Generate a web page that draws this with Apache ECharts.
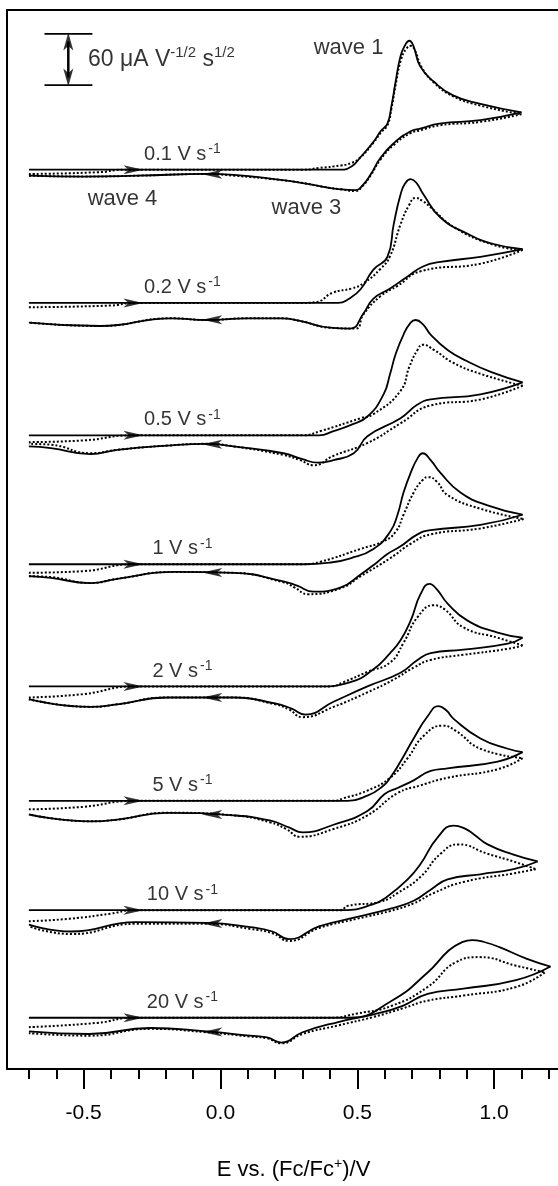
<!DOCTYPE html>
<html>
<head>
<meta charset="utf-8">
<script src="https://cdn.jsdelivr.net/npm/echarts@6/dist/echarts.min.js"></script>
<style>
html, body { margin: 0; padding: 0; background: #fff; }
#main { width: 558px; height: 1186px; }
</style>
</head>
<body>
<div id="main"></div>
<script>
// scan rates, top to bottom
const rates = ['0.1', '0.2', '0.5', '1', '2', '5', '10', '20'];
// vertical offset of each CV, in current units
const offsets = [1053, 897, 742, 591, 448, 314, 186, 60];
const majorTicks = [-0.5, 0.0, 0.5, 1.0];
const minorTicks = [-0.7, -0.6, -0.4, -0.3, -0.2, -0.1, 0.1, 0.2, 0.3, 0.4, 0.6, 0.7, 0.8, 0.9, 1.1, 1.2];

// [E / V, i / (uA V^-1/2 s^1/2)] ; exp = solid, sim = dotted ; F = forward, R = reverse
const exp01F = [[-0.70,0],[0.20,0],[0.44,0],[0.48,4],[0.51,14],[0.56,33],[0.585,45],[0.61,54],[0.625,75],[0.64,103],[0.658,133],[0.675,146],[0.69,151],[0.705,145],[0.73,121],[0.78,103],[0.85,87],[0.95,77],[1.10,67]];
const exp01R = [[1.10,67],[0.95,58],[0.80,54],[0.73,48],[0.695,45],[0.633,31],[0.585,14],[0.548,-6],[0.52,-18],[0.494,-24],[0.44,-23],[0.375,-20],[0.29,-15],[0.22,-12],[0.05,-6],[-0.05,-5],[-0.30,-7],[-0.50,-8],[-0.70,-7]];
const sim01F = [[-0.70,-5],[-0.45,-3],[-0.35,0],[0.30,0],[0.36,2],[0.44,5],[0.48,8],[0.51,14],[0.56,32],[0.585,43],[0.61,52],[0.625,72],[0.64,99],[0.66,129],[0.68,142],[0.695,145],[0.71,140],[0.735,120],[0.78,102],[0.85,86],[0.95,75],[1.10,65]];
const sim01R = [[1.10,65],[0.95,56],[0.80,52],[0.73,46],[0.695,43],[0.633,29],[0.585,12],[0.548,-7],[0.52,-19],[0.494,-25],[0.44,-23],[0.375,-20],[0.29,-15],[0.22,-12],[0.05,-7],[-0.05,-5],[-0.30,-7],[-0.50,-8],[-0.70,-7]];

const exp02F = [[-0.70,0],[0.20,0],[0.43,0],[0.47,5],[0.512,16],[0.559,39],[0.61,54],[0.633,92],[0.658,127],[0.675,140],[0.695,145],[0.715,141],[0.742,127],[0.804,100],[0.903,81],[0.998,69],[1.104,63]];
const exp02R = [[1.104,63],[0.95,54],[0.804,48],[0.742,43],[0.684,31],[0.62,17],[0.559,5],[0.523,-12],[0.475,-30],[0.40,-29],[0.29,-21],[0.22,-18],[0.10,-18],[-0.05,-20],[-0.18,-18],[-0.44,-27],[-0.70,-23]];
const sim02F = [[-0.70,-5],[-0.40,-3],[-0.32,0],[0.30,0],[0.35,1],[0.41,12],[0.48,17],[0.523,23],[0.585,40],[0.62,55],[0.658,92],[0.69,115],[0.713,123],[0.74,119],[0.768,112],[0.852,89],[0.998,68],[1.104,62]];
const sim02R = [[1.104,62],[0.95,46],[0.731,37],[0.647,20],[0.585,8],[0.523,-13],[0.494,-30],[0.40,-29],[0.29,-21],[0.22,-18],[0.10,-18],[-0.05,-20],[-0.18,-18],[-0.44,-27],[-0.70,-23]];

const exp05F = [[-0.70,0],[0.36,0],[0.413,5],[0.475,12],[0.537,22],[0.596,48],[0.62,72],[0.64,95],[0.669,118],[0.695,132],[0.713,135],[0.74,130],[0.768,118],[0.83,100],[0.90,87],[0.99,74],[1.104,62]];
const exp05R = [[1.104,62],[0.95,48],[0.768,42],[0.72,36],[0.658,20],[0.537,-1],[0.487,-21],[0.413,-29],[0.355,-32],[0.30,-28],[0.23,-21],[0.048,-13],[-0.048,-10],[-0.194,-12],[-0.377,-17],[-0.475,-22],[-0.62,-15],[-0.70,-13]];
const sim05F = [[-0.70,-8],[-0.50,-6],[-0.32,0],[0.30,0],[0.366,5],[0.512,20],[0.56,25],[0.658,52],[0.69,80],[0.72,100],[0.739,106],[0.78,100],[0.85,85],[0.95,72],[1.104,58]];
const sim05R = [[1.104,58],[0.95,42],[0.768,35],[0.658,14],[0.537,-9],[0.413,-24],[0.34,-35],[0.29,-29],[0.23,-23],[0.048,-13],[-0.048,-10],[-0.194,-12],[-0.377,-17],[-0.475,-21],[-0.62,-11],[-0.70,-10]];

const exp1F = [[-0.70,0],[0.30,0],[0.40,2],[0.475,7],[0.559,18],[0.62,38],[0.647,58],[0.669,84],[0.695,107],[0.72,124],[0.739,130],[0.768,122],[0.804,107],[0.877,84],[0.976,69],[1.104,58]];
const exp1R = [[1.104,58],[0.95,46],[0.768,40],[0.72,35],[0.658,21],[0.61,12],[0.575,3],[0.512,-12],[0.44,-27],[0.34,-32],[0.28,-25],[0.23,-20],[0.048,-10],[-0.17,-9],[-0.377,-17],[-0.475,-22],[-0.62,-16],[-0.70,-14]];
const sim1F = [[-0.70,-10],[-0.50,-8],[-0.32,0],[0.30,0],[0.366,3],[0.512,18],[0.596,27],[0.64,38],[0.669,58],[0.706,84],[0.74,99],[0.76,102],[0.79,97],[0.83,81],[0.95,65],[1.108,53]];
const sim1R = [[1.108,53],[0.95,42],[0.768,35],[0.695,24],[0.62,7],[0.512,-14],[0.44,-28],[0.32,-35],[0.27,-27],[0.23,-21],[0.048,-10],[-0.17,-9],[-0.377,-17],[-0.475,-22],[-0.62,-15],[-0.70,-14]];

const exp2F = [[-0.70,0],[0.36,0],[0.475,5],[0.559,20],[0.62,39],[0.658,54],[0.695,77],[0.731,108],[0.764,120],[0.79,114],[0.83,97],[0.903,77],[1.013,63],[1.104,57]];
const exp2R = [[1.104,57],[1.05,50],[0.888,43],[0.768,39],[0.72,31],[0.658,16],[0.537,0],[0.413,-18],[0.31,-33],[0.26,-26],[0.20,-20],[0.048,-13],[-0.194,-13],[-0.377,-21],[-0.475,-24],[-0.70,-15]];
const sim2F = [[-0.70,-13],[-0.50,-9],[-0.32,0],[0.40,0],[0.45,5],[0.537,17],[0.62,28],[0.669,51],[0.72,81],[0.779,95],[0.82,90],[0.888,69],[1.013,57],[1.104,48]];
const sim2R = [[1.104,48],[1.05,44],[0.888,37],[0.768,31],[0.706,22],[0.633,8],[0.537,-7],[0.413,-24],[0.30,-36],[0.25,-27],[0.20,-21],[0.048,-13],[-0.194,-13],[-0.377,-21],[-0.475,-24],[-0.70,-15]];

const exp5F = [[-0.70,0],[0.45,0],[0.537,6],[0.596,18],[0.62,27],[0.658,46],[0.706,73],[0.757,99],[0.797,111],[0.825,106],[0.852,96],[0.95,73],[1.05,61],[1.104,57]];
const exp5R = [[1.104,57],[1.013,46],[0.83,38],[0.768,35],[0.706,24],[0.647,15],[0.60,8],[0.537,-12],[0.413,-28],[0.30,-37],[0.25,-31],[0.18,-23],[0.048,-17],[-0.194,-14],[-0.377,-22],[-0.475,-24],[-0.70,-16]];
const sim5F = [[-0.70,-10],[-0.50,-7],[-0.32,0],[0.413,0],[0.45,3],[0.537,12],[0.62,27],[0.684,50],[0.742,76],[0.812,88],[0.86,82],[0.95,61],[1.104,50]];
const sim5R = [[1.104,50],[1.013,37],[0.83,27],[0.73,18],[0.647,9],[0.537,-17],[0.413,-33],[0.29,-42],[0.24,-33],[0.18,-25],[0.048,-17],[-0.194,-14],[-0.377,-22],[-0.475,-24],[-0.70,-16]];

const exp10F = [[-0.70,0],[0.45,0],[0.559,7],[0.61,16],[0.684,36],[0.731,54],[0.793,85],[0.852,99],[0.89,96],[0.925,89],[0.976,77],[1.071,65],[1.159,57]];
const exp10R = [[1.159,57],[1.071,48],[0.95,42],[0.83,36],[0.768,24],[0.706,11],[0.625,2],[0.50,-8],[0.36,-19],[0.25,-34],[0.19,-25],[0.11,-20],[-0.048,-15],[-0.31,-14],[-0.545,-25],[-0.70,-17]];
const sim10F = [[-0.70,-13],[-0.55,-10],[-0.40,-4],[-0.32,0],[0.44,0],[0.464,5],[0.585,10],[0.647,20],[0.731,39],[0.804,66],[0.87,77],[0.976,66],[1.071,57],[1.152,48]];
const sim10R = [[1.152,48],[1.071,43],[0.888,33],[0.779,20],[0.706,8],[0.62,-1],[0.50,-10],[0.36,-21],[0.25,-36],[0.19,-27],[0.11,-22],[-0.048,-16],[-0.31,-16],[-0.545,-28],[-0.70,-19]];

const exp20F = [[-0.70,0],[0.47,0],[0.626,20],[0.757,53],[0.835,79],[0.88,88],[0.92,91],[0.96,89],[1.017,83],[1.12,69],[1.206,60]];
const exp20R = [[1.206,60],[1.08,44],[0.888,34],[0.757,28],[0.666,14],[0.56,4],[0.43,-5],[0.30,-17],[0.223,-29],[0.17,-23],[0.107,-21],[-0.05,-16],[-0.256,-12],[-0.48,-19],[-0.70,-16]];
const sim20F = [[-0.70,-11],[-0.45,-6],[-0.32,0],[0.40,0],[0.50,5],[0.626,14],[0.757,36],[0.86,65],[0.946,71],[1.08,61],[1.185,53]];
const sim20R = [[1.185,53],[1.08,36],[0.888,26],[0.757,20],[0.666,11],[0.56,1],[0.43,-9],[0.30,-19],[0.223,-30],[0.17,-24],[0.107,-22],[-0.05,-17],[-0.256,-13],[-0.48,-21],[-0.70,-18]];

const expF = [exp01F, exp02F, exp05F, exp1F, exp2F, exp5F, exp10F, exp20F];
const expR = [exp01R, exp02R, exp05R, exp1R, exp2R, exp5R, exp10R, exp20R];
const simF = [sim01F, sim02F, sim05F, sim1F, sim2F, sim5F, sim10F, sim20F];
const simR = [sim01R, sim02R, sim05R, sim1R, sim2R, sim5R, sim10R, sim20R];

// scale bar: 60 uA V^-1/2 s^1/2
const barE = [-0.643, -0.468];
const barBottom = 1152;
const barSize = 60;

const font = 'Liberation Sans, Arial, sans-serif';
const arrowPath = 'path://M0,0 L20,4.5 L0,9 L5,4.5 Z';

function interp(d, e) {
  for (let j = 0; j < d.length - 1; j++) {
    const a = d[j], b = d[j + 1];
    if ((e - a[0]) * (e - b[0]) <= 0) {
      return a[1] + (b[1] - a[1]) * (e - a[0]) / (b[0] - a[0]);
    }
  }
  return d[d.length - 1][1];
}

const series = [];
function cvLine(data, dotted) {
  return {
    type: 'line', data: data, symbol: 'none', smooth: 0.5,
    lineStyle: { color: '#000', width: dotted ? 2 : 1.8, type: dotted ? [2, 2] : 'solid' },
    z: dotted ? 3 : 4, silent: true
  };
}
const arrows = [];
const labels = [];
rates.forEach((r, k) => {
  const off = offsets[k];
  const sh = d => d.map(p => [p[0], p[1] + off]);
  series.push(cvLine(sh(simF[k]), true), cvLine(sh(simR[k]), true));
  series.push(cvLine(sh(expF[k]), false), cvLine(sh(expR[k]), false));
  arrows.push({ value: [-0.318, off + interp(expF[k], -0.318)], symbolRotate: 0 });
  arrows.push({ value: [-0.03, off + interp(expR[k], -0.03)], symbolRotate: 180 });
  labels.push({ value: [-0.139, off + 18], name: r });
});

series.push({
  type: 'scatter', data: arrows, symbol: arrowPath, symbolSize: [20, 9],
  itemStyle: { color: '#000' }, z: 6, silent: true
});

const textStyle = {
  t: { fontSize: 20, fontFamily: font, color: '#000', lineHeight: 24 },
  s: { fontSize: 14, fontFamily: font, color: '#000', verticalAlign: 'top', lineHeight: 24, padding: [0, 0, 0, 2] }
};

series.push({
  type: 'scatter', data: labels, symbolSize: 1, itemStyle: { color: 'rgba(0,0,0,0)' },
  label: { show: true, position: 'inside', color: '#000', formatter: p => '{t|' + p.name + ' V s}{s|-1}', rich: textStyle },
  silent: true, z: 7
});

// wave labels
series.push({
  type: 'scatter', symbolSize: 1, itemStyle: { color: 'rgba(0,0,0,0)' },
  data: [
    { value: [0.468, 1195], name: 'wave 1' },
    { value: [-0.358, 1019], name: 'wave 4' },
    { value: [0.314, 1008], name: 'wave 3' }
  ],
  label: { show: true, position: 'inside', formatter: '{b}', fontSize: 22, fontFamily: font, color: '#000' },
  silent: true, z: 7
});

// scale bar
series.push({ type: 'line', symbol: 'none', data: [[barE[0], barBottom], [barE[1], barBottom]], lineStyle: { color: '#000', width: 1.8 }, silent: true });
series.push({ type: 'line', symbol: 'none', data: [[barE[0], barBottom + barSize], [barE[1], barBottom + barSize]], lineStyle: { color: '#000', width: 1.8 }, silent: true });
series.push({ type: 'line', symbol: 'none', data: [[-0.556, barBottom + 9], [-0.556, barBottom + barSize - 9]], lineStyle: { color: '#000', width: 2.5 }, silent: true });
series.push({
  type: 'scatter', symbol: arrowPath, symbolSize: [18, 10], itemStyle: { color: '#000' }, silent: true,
  data: [
    { value: [-0.556, barBottom + barSize - 9], symbolRotate: 90 },
    { value: [-0.556, barBottom + 9], symbolRotate: -90 }
  ]
});
series.push({
  type: 'scatter', symbolSize: 1, itemStyle: { color: 'rgba(0,0,0,0)' },
  data: [{ value: [-0.486, barBottom + barSize / 2], name: '60' }],
  label: {
    show: true, position: 'right', distance: 0, color: '#000',
    formatter: '{t|60 \u03bcA V}{s|-1/2}{t| s}{s|1/2}',
    rich: {
      t: { fontSize: 23, fontFamily: font, color: '#000', lineHeight: 28 },
      s: { fontSize: 15, fontFamily: font, color: '#000', verticalAlign: 'top', lineHeight: 28 }
    }
  },
  silent: true
});

const xMin = -0.78, xMax = 1.2334;
const chart = echarts.init(document.getElementById('main'));
chart.setOption({
  animation: false,
  backgroundColor: '#fff',
  grid: { left: 7, top: 10, width: 551, height: 1075, show: false },
  xAxis: [
    {
      type: 'value', min: xMin, max: xMax,
      axisLine: { show: true, lineStyle: { color: '#000', width: 2 } },
      axisTick: { show: true, customValues: majorTicks, length: 20, inside: false, lineStyle: { color: '#000', width: 2 } },
      axisLabel: { show: true, customValues: majorTicks, margin: 34, fontSize: 21, fontFamily: font, color: '#000', formatter: v => v.toFixed(1) },
      splitLine: { show: false },
      name: 'E vs. (Fc/Fc{s|+})/V', nameLocation: 'middle', nameGap: 88,
      nameTextStyle: { fontSize: 22, fontFamily: font, color: '#000', padding: [0, 0, 0, 22], rich: { s: { fontSize: 14, fontFamily: font, color: '#000', verticalAlign: 'top', lineHeight: 26 } } }
    },
    {
      type: 'value', min: xMin, max: xMax, position: 'bottom', offset: 0,
      axisLine: { show: false },
      axisTick: { show: true, customValues: minorTicks, length: 10, inside: false, lineStyle: { color: '#000', width: 2 } },
      axisLabel: { show: false },
      splitLine: { show: false }
    },
    {
      type: 'value', min: xMin, max: xMax, position: 'top', offset: 0,
      axisLine: { show: true, lineStyle: { color: '#000', width: 2 } },
      axisTick: { show: false }, axisLabel: { show: false }, splitLine: { show: false }
    }
  ],
  yAxis: {
    type: 'value', min: 0, max: 1240, position: 'left',
    axisLine: { show: true, onZero: false, lineStyle: { color: '#000', width: 2 } },
    axisTick: { show: false }, axisLabel: { show: false }, splitLine: { show: false }
  },
  series: series
});
</script>
</body>
</html>
